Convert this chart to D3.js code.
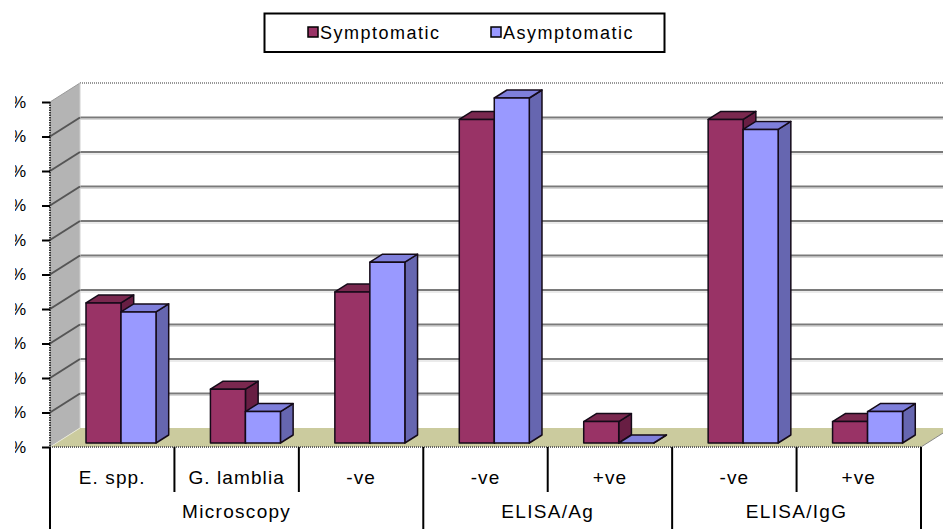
<!DOCTYPE html>
<html>
<head>
<meta charset="utf-8">
<script src="https://cdn.jsdelivr.net/npm/d3@7/dist/d3.min.js"></script>
<style>
  html, body { margin: 0; padding: 0; background: #fff; }
  svg { display: block; font-family: "Liberation Sans", Arial, sans-serif; }
</style>
</head>
<body>
<svg id="chart" width="943" height="529"></svg>
<script>
// Sub-categories along the x axis and the test groups they belong to
const subLabels = ["E. spp.", "G. lamblia", "-ve", "-ve ", "+ve", "-ve  ", "+ve "];
const groupLabels = ["Microscopy", "ELISA/Ag", "ELISA/IgG"];
const groupSizes = [3, 2, 2];
const seriesNames = ["Symptomatic", "Asymptomatic"];
// Percentages per sub-category
const symptomatic = [40.6, 15.6, 43.8, 93.8, 6.2, 93.8, 6.2];
const asymptomatic = [38.0, 9.1, 52.4, 100, 0, 90.9, 9.1];
const yTicks = [0, 10, 20, 30, 40, 50, 60, 70, 80, 90, 100];

const svg = d3.select("#chart");
const W = 943, H = 529;

// Projection of the floor depth
const DX = 30, DY = -19;
// Bar depth
const bdx = 12.7, bdy = -8;

const x = d3.scaleBand().domain(subLabels).range([50, 921]).paddingInner(0).paddingOuter(0);
const xs = d3.scaleBand().domain(seriesNames).range([36, 106]).padding(0);
const yFront = d3.scaleLinear().domain([0, 100]).range([447, 102]);
const yBar = d3.scaleLinear().domain([0, 100]).range([443, 98]);
const yBack = d3.scaleLinear().domain([0, 100]).range([428, 83]);

const colors = {
  Symptomatic: { front: "#993366", top: "#7a284f", side: "#681e43" },
  Asymptomatic: { front: "#9999ff", top: "#7f7fdb", side: "#6666b0" }
};

const x0 = 50, x1 = 921;

// Back wall
svg.append("rect")
  .attr("x", x0 + DX).attr("y", yBack(100))
  .attr("width", W - (x0 + DX) + 10).attr("height", yBack(0) - yBack(100))
  .attr("fill", "#ffffff");

// Back wall top edge (dotted)
svg.append("line")
  .attr("x1", x0 + DX).attr("x2", W)
  .attr("y1", yBack(100)).attr("y2", yBack(100))
  .attr("stroke", "#777").attr("stroke-width", 1.5).attr("stroke-dasharray", "1,1");

// Horizontal gridlines on the back wall
const innerTicks = yTicks.filter(t => t > 0 && t < 100);
svg.append("g").selectAll("line")
  .data(innerTicks)
  .join("line")
  .attr("x1", x0 + DX).attr("x2", W)
  .attr("y1", d => yBack(d)).attr("y2", d => yBack(d))
  .attr("stroke", "#7a7a7a").attr("stroke-width", 2.2);
svg.append("g").selectAll("line")
  .data(innerTicks)
  .join("line")
  .attr("x1", x0 + DX).attr("x2", W)
  .attr("y1", d => yBack(d) + 2).attr("y2", d => yBack(d) + 2)
  .attr("stroke", "#d8d8d8").attr("stroke-width", 1.2);

// Side wall
svg.append("path")
  .attr("d", d3.line()([[x0, yFront(0)], [x0, yFront(100)], [x0 + DX, yBack(100)], [x0 + DX, yBack(0)]]) + "Z")
  .attr("fill", "#b4b4b4");
svg.append("line")
  .attr("x1", x0).attr("y1", yFront(100)).attr("x2", x0 + DX).attr("y2", yBack(100))
  .attr("stroke", "#9a9a9a").attr("stroke-width", 1);
svg.append("line")
  .attr("x1", x0 + DX).attr("y1", yBack(100)).attr("x2", x0 + DX).attr("y2", yBack(0))
  .attr("stroke", "#d0d0d0").attr("stroke-width", 1);

// Diagonal gridlines on the side wall
svg.append("g").selectAll("line")
  .data(innerTicks)
  .join("line")
  .attr("x1", x0).attr("y1", d => yFront(d))
  .attr("x2", x0 + DX).attr("y2", d => yBack(d))
  .attr("stroke", "#555").attr("stroke-width", 2);

// Floor
svg.append("path")
  .attr("d", d3.line()([[x0, yFront(0)], [x1, yFront(0)], [x1 + DX, yBack(0)], [x0 + DX, yBack(0)]]) + "Z")
  .attr("fill", "#cbcb9e");
svg.append("path")
  .attr("d", d3.line()([[x0, yFront(0)], [x0 + DX, yBack(0)]]))
  .attr("stroke", "#e8e8d8").attr("stroke-width", 1).attr("fill", "none");
svg.append("line")
  .attr("x1", x0).attr("x2", x1).attr("y1", yFront(0)).attr("y2", yFront(0))
  .attr("stroke", "#666").attr("stroke-width", 2).attr("stroke-dasharray", "1,1");
svg.append("line")
  .attr("x1", x1).attr("y1", yFront(0)).attr("x2", x1 + DX).attr("y2", yBack(0))
  .attr("stroke", "#888").attr("stroke-width", 1);

// Bars (3D boxes)
const rows = subLabels.map((s, i) => [
  { cat: s, series: "Symptomatic", value: symptomatic[i] },
  { cat: s, series: "Asymptomatic", value: asymptomatic[i] }
]).flat();

const barG = svg.append("g");
rows.forEach(d => {
  const xl = x(d.cat) + xs(d.series);
  const xr = xl + xs.bandwidth();
  const yt = yBar(d.value);
  const yb = yBar(0);
  const c = colors[d.series];
  const g = barG.append("g")
    .attr("stroke", "#140a18").attr("stroke-width", 1.5).attr("stroke-linejoin", "round");
  // side face
  g.append("path")
    .attr("d", d3.line()([[xr, yt], [xr + bdx, yt + bdy], [xr + bdx, yb + bdy], [xr, yb]]) + "Z")
    .attr("fill", c.side);
  // top face
  g.append("path")
    .attr("d", d3.line()([[xl, yt], [xr, yt], [xr + bdx, yt + bdy], [xl + bdx, yt + bdy]]) + "Z")
    .attr("fill", c.top);
  // front face
  if (yb - yt > 0.5) {
    g.append("rect")
      .attr("x", xl).attr("y", yt)
      .attr("width", xr - xl).attr("height", yb - yt)
      .attr("fill", c.front);
  }
});

// Value axis
svg.append("line")
  .attr("x1", x0).attr("x2", x0).attr("y1", yFront(100)).attr("y2", yFront(0))
  .attr("stroke", "#333").attr("stroke-width", 2).attr("stroke-dasharray", "1.5,1");
svg.append("line")
  .attr("x1", x0).attr("x2", x0).attr("y1", yFront(0)).attr("y2", H)
  .attr("stroke", "#000").attr("stroke-width", 2);

const yAxis = d3.axisLeft(yFront).tickValues(yTicks).tickSize(8).tickFormat(d => d + "%");
const ya = svg.append("g")
  .attr("transform", `translate(${x0},0)`)
  .call(yAxis);
ya.select(".domain").remove();
ya.selectAll(".tick line").attr("stroke", "#000").attr("stroke-width", 2);

// Percentage labels, clipped at the left edge of the label column
svg.append("defs").append("clipPath").attr("id", "labelClip")
  .append("rect").attr("x", 15).attr("y", 0).attr("width", W).attr("height", H);
const yLabelHolder = svg.append("g").attr("clip-path", "url(#labelClip)");
ya.selectAll(".tick").each(function () {
  const tr = d3.select(this).attr("transform");
  const txt = d3.select(this).select("text");
  yLabelHolder.append("text")
    .attr("transform", `translate(${x0},0) ${tr}`)
    .attr("x", -24).attr("dy", "0.32em")
    .attr("text-anchor", "end")
    .attr("font-size", 17)
    .text(txt.text());
  txt.remove();
});

// Category axis: separators
const boundaries = subLabels.map(s => x(s)).concat([x1]);
const groupStart = [0];
groupSizes.reduce((a, n) => { groupStart.push(a + n); return a + n; }, 0);
const groupEdges = groupStart.map(i => boundaries[i]);

svg.append("g").selectAll("line")
  .data(boundaries.filter(b => !groupEdges.includes(b)))
  .join("line")
  .attr("x1", d => d).attr("x2", d => d)
  .attr("y1", yFront(0)).attr("y2", 492)
  .attr("stroke", "#000").attr("stroke-width", 2);
svg.append("g").selectAll("line")
  .data(groupEdges)
  .join("line")
  .attr("x1", d => d).attr("x2", d => d)
  .attr("y1", yFront(0)).attr("y2", H)
  .attr("stroke", "#000").attr("stroke-width", 2);

svg.append("g").selectAll("text")
  .data(subLabels)
  .join("text")
  .attr("x", d => x(d) + x.bandwidth() / 2)
  .attr("y", 484)
  .attr("text-anchor", "middle")
  .attr("font-size", 19)
  .attr("letter-spacing", 1.1)
  .text(d => d.trim());

svg.append("g").selectAll("text")
  .data(groupLabels)
  .join("text")
  .attr("x", (d, i) => (groupEdges[i] + groupEdges[i + 1]) / 2)
  .attr("y", 518)
  .attr("text-anchor", "middle")
  .attr("font-size", 19)
  .attr("letter-spacing", 1.3)
  .text(d => d);

// Legend
const leg = svg.append("g");
leg.append("rect")
  .attr("x", 264.5).attr("y", 13.5).attr("width", 400).attr("height", 38.5)
  .attr("fill", "#fff").attr("stroke", "#000").attr("stroke-width", 2);
const legendX = [308, 491];
seriesNames.forEach((s, i) => {
  leg.append("rect")
    .attr("x", legendX[i]).attr("y", 27).attr("width", 10).attr("height", 10)
    .attr("fill", colors[s].front).attr("stroke", "#000").attr("stroke-width", 1.5);
  leg.append("text")
    .attr("x", legendX[i] + 12).attr("y", 38.5)
    .attr("font-size", 18).attr("letter-spacing", 1.5)
    .text(s);
});
</script>
</body>
</html>
